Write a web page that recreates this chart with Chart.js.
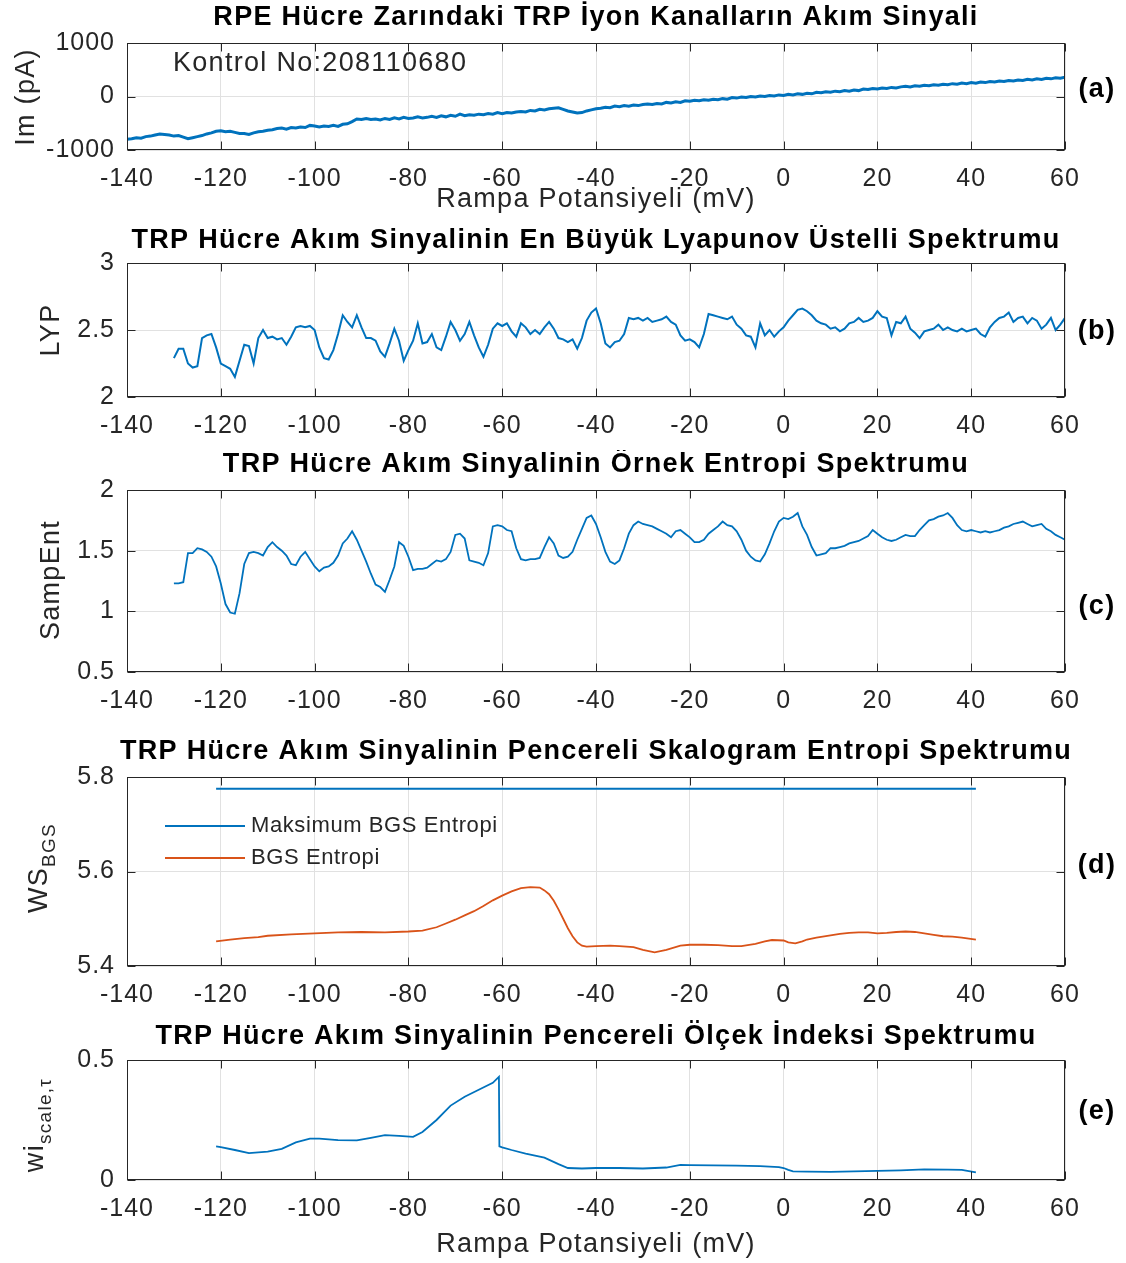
<!DOCTYPE html>
<html>
<head>
<meta charset="utf-8">
<script src="https://cdn.jsdelivr.net/npm/chart.js@4.4.1/dist/chart.umd.min.js"></script>
<style>
  body { margin: 0; background: #fff; width: 1126px; height: 1263px; overflow: hidden; }
  canvas { display: block; }
</style>
</head>
<body>
<canvas id="pa" width="1126" height="225"></canvas>
<canvas id="pb" width="1126" height="225"></canvas>
<canvas id="pc" width="1126" height="275"></canvas>
<canvas id="pd" width="1126" height="295"></canvas>
<canvas id="pe" width="1126" height="243"></canvas>
<script>
// x axis (mV)
const xMin = -140, xMax = 60, xStep = 20;

// (a) membrane current Im (pA), one value per mV from -140 to 60
const imStart = -140;
const imValues = [
  -800,-790,-770,-780,-750,-740,-720,-700,-710,-720,
  -740,-730,-760,-790,-770,-750,-730,-700,-680,-650,
  -640,-660,-650,-670,-690,-690,-710,-680,-660,-650,
  -630,-620,-600,-590,-610,-580,-590,-570,-580,-540,
  -550,-570,-550,-560,-540,-560,-520,-510,-470,-420,
  -430,-410,-430,-420,-440,-410,-430,-400,-420,-390,
  -410,-400,-380,-400,-390,-370,-390,-360,-380,-350,
  -370,-330,-360,-340,-350,-330,-340,-320,-330,-300,
  -320,-300,-310,-290,-280,-290,-260,-270,-240,-250,
  -230,-220,-210,-240,-270,-290,-310,-300,-270,-250,
  -230,-220,-200,-210,-180,-190,-170,-180,-160,-170,
  -150,-140,-150,-130,-140,-110,-120,-100,-110,-80,
  -90,-70,-80,-60,-70,-50,-60,-40,-50,-20,
  -30,-10,-20,0,-10,10,0,20,10,30,
  20,40,30,50,40,60,50,80,70,90,
  80,100,90,110,100,120,110,140,130,150,
  140,160,150,170,160,180,190,180,200,190,
  210,200,220,210,230,220,240,230,250,240,
  260,250,270,260,280,270,290,280,300,290,
  310,300,320,310,330,320,340,330,350,340,
  360
];

// (b) largest Lyapunov exponent, one value per mV from -130 to 60
const lypStart = -130;
const lypValues = [
  2.29,2.36,2.36,2.25,2.22,2.23,2.44,2.46,2.47,2.37,
  2.25,2.23,2.21,2.15,2.27,2.39,2.38,2.25,2.44,2.50,
  2.44,2.45,2.43,2.44,2.39,2.45,2.52,2.53,2.52,2.53,
  2.50,2.37,2.29,2.28,2.35,2.47,2.61,2.56,2.52,2.61,
  2.52,2.44,2.44,2.42,2.34,2.30,2.40,2.51,2.42,2.27,
  2.35,2.42,2.55,2.40,2.41,2.47,2.37,2.35,2.45,2.56,
  2.50,2.42,2.47,2.56,2.46,2.37,2.30,2.39,2.51,2.55,
  2.53,2.55,2.49,2.45,2.55,2.52,2.47,2.50,2.47,2.52,
  2.56,2.51,2.44,2.43,2.41,2.43,2.36,2.44,2.57,2.63,
  2.66,2.55,2.40,2.37,2.41,2.42,2.47,2.59,2.58,2.59,
  2.57,2.59,2.56,2.57,2.58,2.60,2.56,2.54,2.46,2.42,
  2.43,2.41,2.37,2.47,2.62,2.61,2.60,2.59,2.58,2.60,
  2.54,2.51,2.46,2.45,2.37,2.55,2.46,2.50,2.45,2.49,
  2.52,2.57,2.61,2.65,2.66,2.64,2.61,2.57,2.55,2.54,
  2.51,2.52,2.49,2.51,2.55,2.56,2.59,2.56,2.57,2.59,
  2.64,2.60,2.59,2.46,2.56,2.55,2.60,2.51,2.48,2.44,
  2.49,2.50,2.51,2.54,2.50,2.52,2.50,2.49,2.51,2.49,
  2.50,2.51,2.47,2.45,2.52,2.56,2.59,2.60,2.63,2.56,
  2.59,2.60,2.55,2.59,2.57,2.51,2.54,2.59,2.50,2.54,
  2.59
];

// (c) sample entropy, one value per mV from -130 to 60
const sampStart = -130;
const sampValues = [
  1.23,1.23,1.24,1.48,1.48,1.52,1.51,1.49,1.45,1.37,
  1.23,1.06,0.99,0.98,1.15,1.39,1.48,1.49,1.48,1.46,
  1.53,1.57,1.53,1.50,1.46,1.39,1.38,1.45,1.49,1.43,
  1.37,1.33,1.36,1.37,1.40,1.46,1.56,1.60,1.66,1.59,
  1.50,1.41,1.31,1.22,1.20,1.16,1.26,1.37,1.57,1.54,
  1.45,1.34,1.35,1.35,1.36,1.39,1.42,1.41,1.43,1.49,
  1.63,1.64,1.60,1.42,1.41,1.40,1.38,1.48,1.70,1.71,
  1.70,1.67,1.66,1.52,1.43,1.42,1.43,1.43,1.44,1.53,
  1.61,1.56,1.46,1.44,1.45,1.49,1.59,1.68,1.77,1.79,
  1.72,1.61,1.49,1.41,1.39,1.42,1.52,1.64,1.71,1.74,
  1.72,1.71,1.70,1.68,1.66,1.64,1.61,1.66,1.67,1.64,
  1.61,1.57,1.57,1.59,1.64,1.67,1.70,1.74,1.71,1.70,
  1.66,1.59,1.50,1.45,1.42,1.41,1.47,1.56,1.66,1.74,
  1.77,1.76,1.78,1.81,1.70,1.63,1.53,1.46,1.47,1.48,
  1.52,1.52,1.53,1.54,1.56,1.57,1.58,1.60,1.62,1.67,
  1.64,1.61,1.59,1.58,1.59,1.61,1.63,1.62,1.62,1.67,
  1.71,1.75,1.76,1.78,1.79,1.81,1.77,1.71,1.67,1.66,
  1.67,1.66,1.65,1.66,1.65,1.66,1.67,1.69,1.70,1.72,
  1.73,1.74,1.72,1.70,1.71,1.72,1.68,1.66,1.63,1.61,
  1.59
];

// (d) windowed scalogram entropy
const bgsMaxX = [-121, 41];
const bgsMaxValues = [5.775, 5.775];
const bgsX = [
  -121,-118,-115,-112,-110,  -105,-100,-95,-90,-85,
  -80,-77,-74,-72,-70,       -68,-66,-64,-62,-60,
  -58,-56,-54,-52,-51,       -50,-49,-48,-47,-46,
  -45,-44,-43,-42,-40,       -37,-35,-32,-30,-27.5,
  -25,-22,-20,-17,-14,       -11,-9,-6,-4,-2.5,
  0,1,2.5,4,5,               7,9,12,14,16,
  18,20,22,24,26,            28,30,32,34,36,
  38,41
];
const bgsValues = [
  5.452,5.456,5.459,5.461,5.464,  5.467,5.469,5.471,5.472,5.471,
  5.473,5.475,5.482,5.490,5.498,  5.507,5.516,5.527,5.539,5.549,
  5.558,5.565,5.567,5.566,5.560,  5.552,5.538,5.520,5.500,5.480,
  5.463,5.450,5.443,5.441,5.442,  5.443,5.442,5.440,5.434,5.429,
  5.434,5.443,5.445,5.445,5.444,  5.442,5.442,5.447,5.452,5.455,
  5.454,5.450,5.448,5.452,5.456,  5.460,5.463,5.468,5.470,5.471,
  5.471,5.469,5.470,5.472,5.473,  5.472,5.469,5.466,5.463,5.462,
  5.460,5.456
];
const bgsNames = ['Maksimum BGS Entropi', 'BGS Entropi'];

// (e) windowed scale index
const wiX = [
  -121,-120,-117,-114,-110,  -107,-104,-101,-99,-95,
  -91,-88,-85,-82,-79,       -77,-74,-71,-68,-65,
  -62,-60.7,-60.6,-60,-58,   -55,-51,-48,-46,-43,
  -40,-35,-30,-25,-22,       -20,-15,-10,-5,-1,
  0,1,2,5,10,                15,20,25,30,35,
  38,41
];
const wiValues = [
  0.140,0.137,0.125,0.112,0.118,  0.130,0.157,0.172,0.172,0.166,
  0.165,0.176,0.187,0.184,0.180,  0.200,0.250,0.310,0.347,0.376,
  0.405,0.430,0.140,0.136,0.125,  0.110,0.093,0.066,0.050,0.048,
  0.050,0.050,0.048,0.052,0.063,  0.062,0.061,0.060,0.058,0.054,
  0.050,0.042,0.036,0.035,0.034,  0.036,0.038,0.040,0.044,0.043,
  0.042,0.032
];

const FONT = '"Liberation Sans", Arial, Helvetica, sans-serif';
const INK = '#262626';
const BLUE = '#0072BD';
const ORANGE = '#D95319';

function stepPoints(start, values) {
  return values.map((v, i) => ({ x: start + i, y: v }));
}
function pairPoints(xs, ys) {
  return xs.map((x, i) => ({ x: x, y: ys[i] }));
}
function fmt(v) {
  return String(Math.round(v * 1000) / 1000);
}

// matlab-like box, inward ticks and all the free text of a panel
const decor = {
  id: 'decor',
  beforeDraw(chart) {
    chart.ctx.letterSpacing = '1px';
  },
  afterDraw(chart, args, o) {
    const { ctx, chartArea: a, scales: { x, y } } = chart;
    ctx.save();
    ctx.letterSpacing = '0px';
    const L = Math.round(a.left) + 0.5, R = Math.round(a.right) - 0.5;
    const T = Math.round(a.top) + 0.5, B = Math.round(a.bottom) - 0.5;
    ctx.strokeStyle = INK;
    ctx.lineWidth = 1;
    ctx.strokeRect(L, T, R - L, B - T);
    const tl = 8;
    ctx.beginPath();
    x.ticks.forEach(t => {
      const px = Math.round(x.getPixelForValue(t.value)) + 0.5;
      ctx.moveTo(px, B); ctx.lineTo(px, B - tl);
      ctx.moveTo(px, T); ctx.lineTo(px, T + tl);
    });
    y.ticks.forEach(t => {
      const py = Math.round(y.getPixelForValue(t.value)) + 0.5;
      ctx.moveTo(L, py); ctx.lineTo(L + tl, py);
      ctx.moveTo(R, py); ctx.lineTo(R - tl, py);
    });
    ctx.stroke();

    const cx = (a.left + a.right) / 2;
    ctx.textBaseline = 'middle';

    // title
    ctx.fillStyle = '#000';
    ctx.font = 'bold 27px ' + FONT;
    ctx.letterSpacing = '1.3px';
    ctx.textAlign = 'center';
    ctx.fillText(o.title, cx, o.titleY);

    // panel tag
    ctx.fillText(o.tag, 1097, o.tagY);

    // x label
    ctx.fillStyle = INK;
    ctx.font = '27px ' + FONT;
    if (o.xlabel) ctx.fillText(o.xlabel, cx, o.xlabelY);

    // annotation
    if (o.note) {
      ctx.textAlign = 'left';
      ctx.fillText(o.note, o.noteX, o.noteY);
    }

    // y label, optional subscript
    ctx.save();
    ctx.translate(o.ylabelX, o.ylabelY);
    ctx.rotate(-Math.PI / 2);
    ctx.textAlign = 'left';
    ctx.font = '27px ' + FONT;
    const mainW = ctx.measureText(o.ylabel).width;
    let subW = 0;
    if (o.ysub) {
      ctx.font = '19px ' + FONT;
      subW = ctx.measureText(o.ysub).width;
    }
    const s = -(mainW + subW) / 2;
    ctx.font = '27px ' + FONT;
    ctx.fillText(o.ylabel, s, 0);
    if (o.ysub) {
      ctx.font = '19px ' + FONT;
      ctx.fillText(o.ysub, s + mainW, o.subShift);
    }
    ctx.restore();

    // legend
    if (o.legend) {
      ctx.letterSpacing = '0.6px';
      ctx.font = '22px ' + FONT;
      ctx.textAlign = 'left';
      o.legend.forEach((item, i) => {
        const ly = o.legendY[i];
        ctx.strokeStyle = item.color;
        ctx.lineWidth = 2;
        ctx.beginPath();
        ctx.moveTo(165, ly); ctx.lineTo(245, ly);
        ctx.stroke();
        ctx.fillStyle = INK;
        ctx.fillText(item.text, 251, ly);
      });
    }
    ctx.restore();
  }
};

function makePanel(id, datasets, yMin, yMax, yStep, padTop, xAxisH, decorOpts) {
  return new Chart(document.getElementById(id), {
    type: 'line',
    data: { datasets: datasets },
    plugins: [decor],
    options: {
      responsive: false,
      animation: false,
      devicePixelRatio: 1,
      parsing: false,
      layout: { padding: { top: padTop, right: 61, bottom: 0, left: 0 } },
      elements: { point: { radius: 0 }, line: { tension: 0 } },
      plugins: {
        legend: { display: false },
        title: { display: false },
        tooltip: { enabled: false },
        decor: decorOpts
      },
      scales: {
        x: {
          type: 'linear',
          min: xMin, max: xMax,
          afterFit(scale) { scale.height = xAxisH; },
          ticks: {
            stepSize: xStep, maxRotation: 0, autoSkip: false,
            padding: 14, color: INK,
            font: { family: FONT, size: 25 },
            callback: fmt
          },
          grid: { color: '#e1e1e1', drawTicks: false, tickLength: 0 },
          border: { display: false }
        },
        y: {
          type: 'linear',
          min: yMin, max: yMax,
          afterFit(scale) { scale.width = 127; },
          ticks: {
            stepSize: yStep, padding: 12, color: INK,
            font: { family: FONT, size: 25 },
            callback: fmt
          },
          grid: { color: '#e1e1e1', drawTicks: false, tickLength: 0 },
          border: { display: false }
        }
      }
    }
  });
}

function lineSet(points, color, width) {
  return { data: points, borderColor: color, borderWidth: width, fill: false, pointRadius: 0 };
}

makePanel('pa', [lineSet(stepPoints(imStart, imValues), BLUE, 3)],
  -1000, 1000, 1000, 43, 75, {
    title: 'RPE Hücre Zarındaki TRP İyon Kanalların Akım Sinyali', titleY: 18,
    tag: '(a)', tagY: 90,
    ylabel: 'Im (pA)', ylabelX: 27, ylabelY: 97,
    xlabel: 'Rampa Potansiyeli (mV)', xlabelY: 200,
    note: 'Kontrol No:208110680', noteX: 173, noteY: 64
  });

makePanel('pb', [lineSet(stepPoints(lypStart, lypValues), BLUE, 2)],
  2, 3, 0.5, 38, 53, {
    title: 'TRP Hücre Akım Sinyalinin En Büyük Lyapunov Üstelli Spektrumu', titleY: 16,
    tag: '(b)', tagY: 107,
    ylabel: 'LYP', ylabelX: 52, ylabelY: 105
  });

makePanel('pc', [lineSet(stepPoints(sampStart, sampValues), BLUE, 1.8)],
  0.5, 2, 0.5, 40, 53, {
    title: 'TRP Hücre Akım Sinyalinin Örnek Entropi Spektrumu', titleY: 15,
    tag: '(c)', tagY: 157,
    ylabel: 'SampEnt', ylabelX: 52, ylabelY: 130
  });

makePanel('pd', [
    lineSet(pairPoints(bgsMaxX, bgsMaxValues), BLUE, 2),
    lineSet(pairPoints(bgsX, bgsValues), ORANGE, 1.8)
  ],
  5.4, 5.8, 0.2, 52, 54, {
    title: 'TRP Hücre Akım Sinyalinin Pencereli Skalogram Entropi Spektrumu', titleY: 27,
    tag: '(d)', tagY: 141,
    ylabel: 'WS', ysub: 'BGS', subShift: 10, ylabelX: 40, ylabelY: 143,
    legend: [{ text: bgsNames[0], color: BLUE }, { text: bgsNames[1], color: ORANGE }],
    legendY: [101, 133]
  });

makePanel('pe', [lineSet(pairPoints(wiX, wiValues), BLUE, 1.8)],
  0, 0.5, 0.5, 40, 83, {
    title: 'TRP Hücre Akım Sinyalinin Pencereli Ölçek İndeksi Spektrumu', titleY: 17,
    tag: '(e)', tagY: 92,
    ylabel: 'wi', ysub: 'scale,τ', subShift: 10, ylabelX: 36, ylabelY: 105,
    xlabel: 'Rampa Potansiyeli (mV)', xlabelY: 225
  });
</script>
</body>
</html>
